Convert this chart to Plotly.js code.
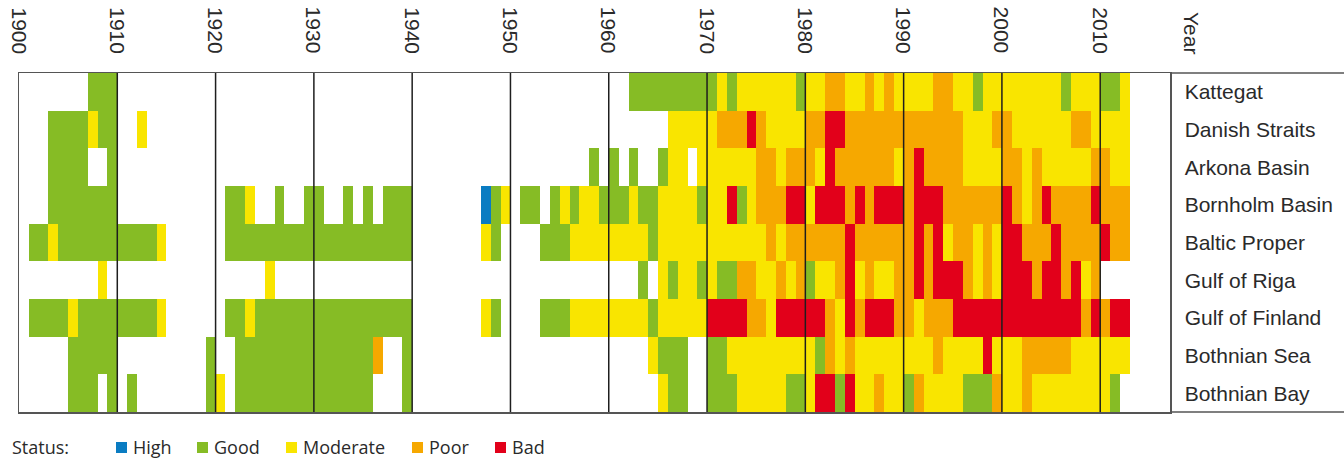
<!DOCTYPE html>
<html><head><meta charset="utf-8">
<script src="https://cdn.plot.ly/plotly-3.0.1.min.js"></script>
<style>html,body{margin:0;padding:0;background:#fff}#chart{width:1344px;height:460px}</style>
</head><body><div id="chart"></div>
<script>
// ---------- data ----------
const firstYear = 1900;
const basins = ['Kattegat','Danish Straits','Arkona Basin','Bornholm Basin','Baltic Proper',
                'Gulf of Riga','Gulf of Finland','Bothnian Sea','Bothnian Bay'];
const statusNames  = ['High','Good','Moderate','Poor','Bad'];
const statusCodes  = ['H','G','M','P','B'];
const statusColors = ['#0a7cc2','#86bc25','#f9e500','#f6a800','#e2001a'];
const decadeTicks  = [1900,1910,1920,1930,1940,1950,1960,1970,1980,1990,2000,2010];

// one character per year from 1900 (grouped by decade); '.' = no assessment
const kattegat      = ".......GGG .......... .......... .......... .......... .......... ..GGGGGGGG GMGMMMMMMG MMPPMMPMPM MMMPPMMGMM MMMMMMGMMM GGM";
const danishStraits = "...GGGGMGG ..M....... .......... .......... .......... .......... ......MMMM MPPPBPMMMM PPBBPPPPPP PPPPPPMMMP PMMMMMMPPM MMM";
const arkonaBasin   = "...GGGG..G .......... .......... .......... .......... ........G. G.G..GMM.M MMMMMPPMPP PMBPPPPPPM PBPPPPMMMM PPMPMMMMMP PMM";
const bornholmBasin = "...GGGGGGG .......... .GGM..G..G G..G.G.GGG .......HGM .GG.GMGMMG GGMGGMMMMG MMBGMPPPBB MBBBPBPBBB PBBBPPPPPP BPMPBPPPPB PPP";
const balticProper  = ".GGMGGGGGG GGGGM..... .GGGGGGGGG GGGGGGGGGG .......MG. ...GGGMMMM MMMMGMMMMM MMMMMMPMPP PPPPBPPPPP PBPBMPPMPM BBPPPBPPPP BPP";
const gulfOfRiga    = "........M. .......... .....M.... .......... .......... .......... ...G.MGMMG MGGPPMMPMP GMMPBMPMMP PBPBBBPMPM BBBPBBPBMP ...";
const gulfOfFinland = ".GGGGMGGGG GGGGM..... .GGMGGGGGG GGGGGGGGGG .......MG. ...GGGMMMM MMMMGMMMMM BBBBPPMBBB BBPMBPBBBP PMPPPBBBBB BBBBBBBBPB PBB";
const bothnianSea   = ".....GGGGG .........G ..GGGGGGGG GGGGGGP..G .......... .......... ....MGGG.. GGMMMMMMMM MGPMPMMMMM MMMPMMMMBM MMPPPPPMMM MMM";
const bothnianBay   = ".....GGG.G .G.......G M.GGGGGGGG GGGGGG...G .......... .......... .....MGG.. GGGMMMMMGG MBBGBMMPMM GPMMMMGGGP MMPMMMMMMM MG.";

const rows = [kattegat, danishStraits, arkonaBasin, bornholmBasin, balticProper,
              gulfOfRiga, gulfOfFinland, bothnianSea, bothnianBay];

// ---------- build ----------
const z = rows.map(s => s.replace(/ /g,'').split('').map(c => {
  const i = statusCodes.indexOf(c); return i < 0 ? null : i; }));
const nYears = z[0].length;
const xEdges = Array.from({length: nYears + 1}, (_, i) => firstYear + i);

const n = statusColors.length;
const colorscale = [];
statusColors.forEach((c, i) => { colorscale.push([i / n, c]); colorscale.push([(i + 1) / n, c]); });

// layout geometry (pixels)
const W = 1344, H = 460, ML = 19, MR = 174, MT = 73, MB = 48;
const plotW = W - ML - MR, plotH = H - MT - MB;
const px2x = p => (p - ML) / plotW;
const px2y = p => (H - MB - p) / plotH;

const labelFont = {family: 'Liberation Sans, Arial, sans-serif', size: 21, color: '#2a2a2a'};
const legendFont = {family: 'Open Sans, sans-serif', size: 18, color: '#2a2a2a'};

const trace = {
  type: 'heatmap', x: xEdges, y: basins, z: z,
  zmin: -0.5, zmax: n - 0.5, colorscale: colorscale,
  showscale: false, hoverinfo: 'skip', zsmooth: false
};

const shapes = [];
decadeTicks.slice(1).forEach(d => shapes.push({
  type: 'line', xref: 'x', yref: 'paper', x0: d, x1: d, y0: 0, y1: 1,
  line: {color: '#1e1e1e', width: 1.5}}));
// frame extension over the label column
[0, 1].forEach(yy => shapes.push({
  type: 'line', xref: 'paper', yref: 'paper', x0: 1, x1: px2x(W + 2), y0: yy, y1: yy,
  line: {color: '#555', width: 1.5}}));

const annotations = [];
// rotated decade labels above the plot
decadeTicks.forEach(d => annotations.push({
  xref: 'x', yref: 'paper', x: d, y: px2y(56), xanchor: 'center', yanchor: 'bottom',
  text: String(d), textangle: 90, showarrow: false, font: labelFont}));

// legend
const legendY = 447;
const legendSquareX = [116, 197, 286, 412, 495];
const legendTextX = [131, 212, 301, 427, 510];
annotations.push({
  xref: 'paper', yref: 'paper', x: px2x(10), y: px2y(legendY), xanchor: 'left', yanchor: 'middle',
  text: 'Status:', showarrow: false, font: legendFont});
statusNames.forEach((name, i) => {
  shapes.push({type: 'rect', xref: 'paper', yref: 'paper',
    x0: px2x(legendSquareX[i]), x1: px2x(legendSquareX[i] + 11),
    y0: px2y(legendY + 6), y1: px2y(legendY - 5),
    fillcolor: statusColors[i], line: {width: 0}});
  annotations.push({xref: 'paper', yref: 'paper', x: px2x(legendTextX[i]), y: px2y(legendY),
    xanchor: 'left', yanchor: 'middle', text: name, showarrow: false, font: legendFont});
});
annotations.push({xref: 'paper', yref: 'paper', x: px2x(1192), y: px2y(56),
  xanchor: 'center', yanchor: 'bottom', text: 'Year', textangle: 90, showarrow: false, font: labelFont});

const layout = {
  width: W, height: H, margin: {l: ML, r: MR, t: MT, b: MB, pad: 0},
  paper_bgcolor: '#fff', plot_bgcolor: '#fff', showlegend: false,
  xaxis: {range: [firstYear, 2017.1], side: 'top', tickmode: 'array', tickvals: decadeTicks,
    showticklabels: false, ticks: '',
    showgrid: false, zeroline: false, showline: true, mirror: true,
    linecolor: '#555', linewidth: 1.5, fixedrange: true},
  yaxis: {autorange: 'reversed', side: 'right', tickfont: labelFont, ticks: '',
    ticklabelstandoff: 9, showgrid: false, zeroline: false, showline: true, mirror: true,
    linecolor: '#555', linewidth: 1.5, fixedrange: true},
  shapes: shapes, annotations: annotations
};

Plotly.newPlot('chart', [trace], layout, {staticPlot: true, displayModeBar: false});
</script>
</body></html>
